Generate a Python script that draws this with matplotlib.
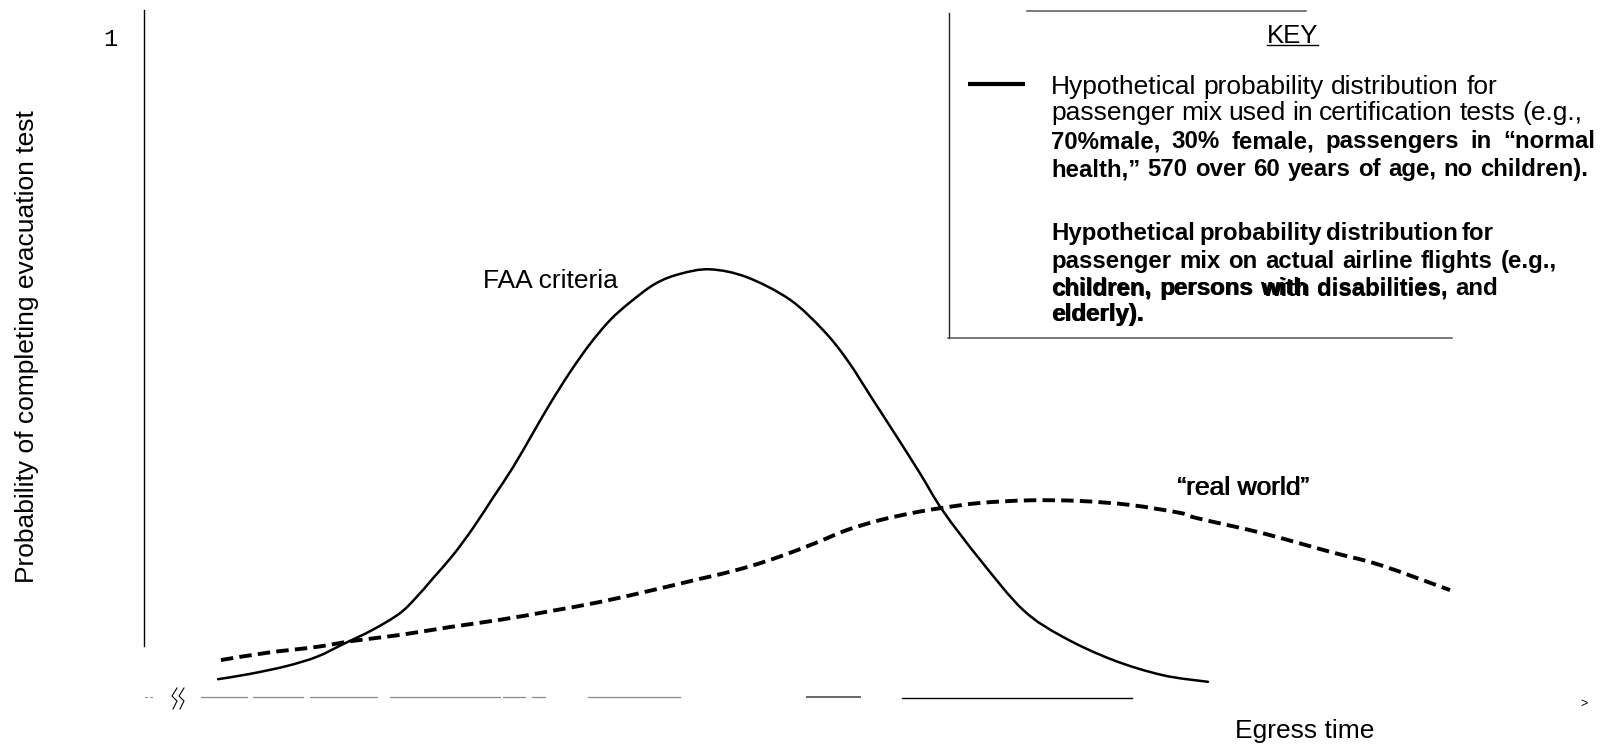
import matplotlib
matplotlib.use('Agg')
import matplotlib.pyplot as plt
from matplotlib.transforms import Affine2D
from matplotlib.lines import Line2D
from matplotlib.path import Path
from matplotlib.patches import PathPatch

plt.rcParams['font.family'] = ['Liberation Sans', 'DejaVu Sans']

# ---------------- data (egress time in arbitrary units, probability 0..1) -------------
faa_x = [5.15, 7.37, 9.94, 12.03, 13.84, 15.92, 17.80, 18.98, 20.10, 21.49, 22.88,
         24.27, 25.66, 27.05, 28.23, 29.62, 31.02, 32.41, 33.80, 35.54, 37.27, 39.36,
         41.93, 44.92, 47.22, 48.89, 50.70, 52.36, 53.96, 55.56, 58.14, 61.13, 63.91,
         67.39, 70.86, 73.99]
faa_y = [0.027, 0.035, 0.047, 0.061, 0.080, 0.102, 0.127, 0.152, 0.180, 0.215, 0.256,
         0.302, 0.348, 0.400, 0.444, 0.492, 0.535, 0.571, 0.598, 0.626, 0.641, 0.648,
         0.636, 0.602, 0.556, 0.511, 0.450, 0.394, 0.339, 0.282, 0.208, 0.132, 0.091,
         0.056, 0.033, 0.023]

real_x = [5.35, 8.55, 12.03, 14.53, 17.80, 21.28, 24.76, 28.23, 31.71, 35.19, 38.66,
          40.06, 42.14, 44.37, 46.66, 48.89, 51.18, 53.48, 55.35, 58.14, 61.61, 65.09,
          68.57, 72.04, 73.23, 77.82, 82.48, 85.95, 90.82]
real_y = [0.056, 0.067, 0.076, 0.085, 0.094, 0.106, 0.117, 0.130, 0.144, 0.161, 0.179,
          0.186, 0.198, 0.214, 0.233, 0.253, 0.268, 0.279, 0.286, 0.294, 0.298, 0.297,
          0.291, 0.279, 0.271, 0.248, 0.220, 0.200, 0.162]

y_tick_values = [1]
y_tick_labels = ['1']

ylabel = "Probability of completing evacuation test"
xlabel = "Egress time"
key_title = "KEY"
key1_lines = ["Hypothetical probability distribution for",
              "passenger mix used in certification tests (e.g.,"]
key1_bold = ["70%male, 30% female, passengers in \u201cnormal",
             "health,\u201d 570 over 60 years of age, no children)."]
key2_bold = ["Hypothetical probability distribution for",
             "passenger mix on actual airline flights (e.g.,",
             "children, persons with disabilities, and",
             "elderly)."]

# ---------------- figure ----------------
W, H = 1613, 745
fig = plt.figure(figsize=(W / 100, H / 100), dpi=100)
PX = Affine2D().scale(1, -1).translate(0, H)   # figure pixel coords, y down


def ptext(x, y, s, **kw):
    return fig.text(x, y, s, transform=PX, **kw)


def pline(xs, ys, **kw):
    fig.add_artist(Line2D(xs, ys, transform=PX, **kw))


ax = fig.add_axes([144 / W, (H - 697) / H, 1438 / W, 660 / H])
ax.set_xlim(0, 100)
ax.set_ylim(0, 1)
ax.patch.set_visible(False)
for s in ax.spines.values():
    s.set_visible(False)
ax.set_xticks([])
ax.set_yticks(y_tick_values)
ax.set_yticklabels(y_tick_labels, fontfamily='Liberation Mono', fontsize=17)
ax.tick_params(axis='y', length=0, pad=19.5)

# vertical axis line
ax.plot([0, 0], [(697 - 646) / 660, (697 - 9.5) / 660], color='black', lw=1.0,
        clip_on=False)


def smooth_path(xs, ys):
    """Smooth (Catmull-Rom as cubic Bezier) path through the given data points."""
    pts = list(zip(xs, ys))
    n = len(pts)
    verts = [pts[0]]
    codes = [Path.MOVETO]
    for i in range(n - 1):
        p0 = pts[i - 1] if i > 0 else pts[i]
        p1 = pts[i]
        p2 = pts[i + 1]
        p3 = pts[i + 2] if i + 2 < n else pts[i + 1]
        c1 = (p1[0] + (p2[0] - p0[0]) / 6, p1[1] + (p2[1] - p0[1]) / 6)
        c2 = (p2[0] - (p3[0] - p1[0]) / 6, p2[1] - (p3[1] - p1[1]) / 6)
        verts += [c1, c2, p2]
        codes += [Path.CURVE4] * 3
    return Path(verts, codes)


ax.add_patch(PathPatch(smooth_path(faa_x, faa_y), fill=False, edgecolor='black',
                       lw=1.8, clip_on=False, capstyle='round', joinstyle='round'))
ax.add_patch(PathPatch(smooth_path(real_x, real_y), fill=False, edgecolor='black',
                       lw=2.8, linestyle=(0, (3.2, 1.6)), clip_on=False,
                       capstyle='butt'))

# broken horizontal axis (scan look)
for a, b in [(201, 247), (253, 303), (310, 377), (390, 500), (503, 525), (532, 545),
             (588, 680)]:
    pline([a, b], [697, 697], color='#8a8a8a', lw=0.9)
pline([807, 860], [697, 697], color='#666666', lw=1.4)
pline([902, 1132], [697.5, 697.5], color='black', lw=1.0)
for a in (145, 150):
    pline([a, a + 2], [697, 697], color='#999999', lw=0.8)
for x0 in (172, 179):
    pline([x0 + 5, x0, x0 + 5, x0 + 1], [688, 696, 701, 709], color='black', lw=0.8)

# axis texts
ptext(27, 347, ylabel, rotation=90, ha='center', va='center', fontsize=19)
ptext(1235, 738, xlabel, ha='left', va='baseline', fontsize=19)
ptext(1580, 707, '>', ha='left', va='baseline', fontsize=9)

# curve labels
ptext(483, 288, 'FAA criteria', ha='left', va='baseline', fontsize=19)
ptext(1177, 495, '\u201creal world\u201d', ha='left', va='baseline', fontsize=19)
ptext(1178.2, 495, '\u201creal world\u201d', ha='left', va='baseline', fontsize=19)

# key box
pline([948.5, 948.5], [13, 338], color='#222222', lw=1.0)
pline([948, 1452], [338, 338], color='#555555', lw=1.1)
pline([1027, 1306], [10.7, 10.7], color='#555555', lw=1.1)
ptext(1267, 43, key_title, ha='left', va='baseline', fontsize=18.5)
pline([1267, 1318], [45, 45], color='black', lw=1.0)
pline([968, 1025], [84, 84], color='black', lw=3.0, solid_capstyle='butt')

renderer = fig.canvas.get_renderer()


def justify(s, x0, x1, y, **kw):
    words = s.split(' ')
    ts = [ptext(0, y, w, ha='left', va='baseline', **kw) for w in words]
    ws = [t.get_window_extent(renderer).width for t in ts]
    gap = (x1 - x0 - sum(ws)) / max(len(words) - 1, 1)
    x = x0
    for t, w in zip(ts, ws):
        t.set_x(x)
        x += w + gap
    return ts


reg = dict(fontsize=19)
bold = dict(fontsize=17.3, fontweight='bold')

justify(key1_lines[0], 1051, 1497, 94, **reg)
justify(key1_lines[1], 1051, 1582, 120, **reg)
justify(key1_bold[0], 1051, 1595, 148, **bold)
justify(key1_bold[1], 1051, 1588, 176, **bold)

justify(key2_bold[0], 1051, 1494, 240, **bold)
justify(key2_bold[1], 1051, 1557, 268, **bold)
justify(key2_bold[2], 1051, 1498, 295, **bold)
justify("children, persons with disabilities,", 1052.5, 1448, 295.5, **bold)
ptext(1051, 321, key2_bold[3], ha='left', va='baseline', **bold)
ptext(1052.5, 321.5, key2_bold[3], ha='left', va='baseline', **bold)

fig.savefig('out.png', dpi=100)
